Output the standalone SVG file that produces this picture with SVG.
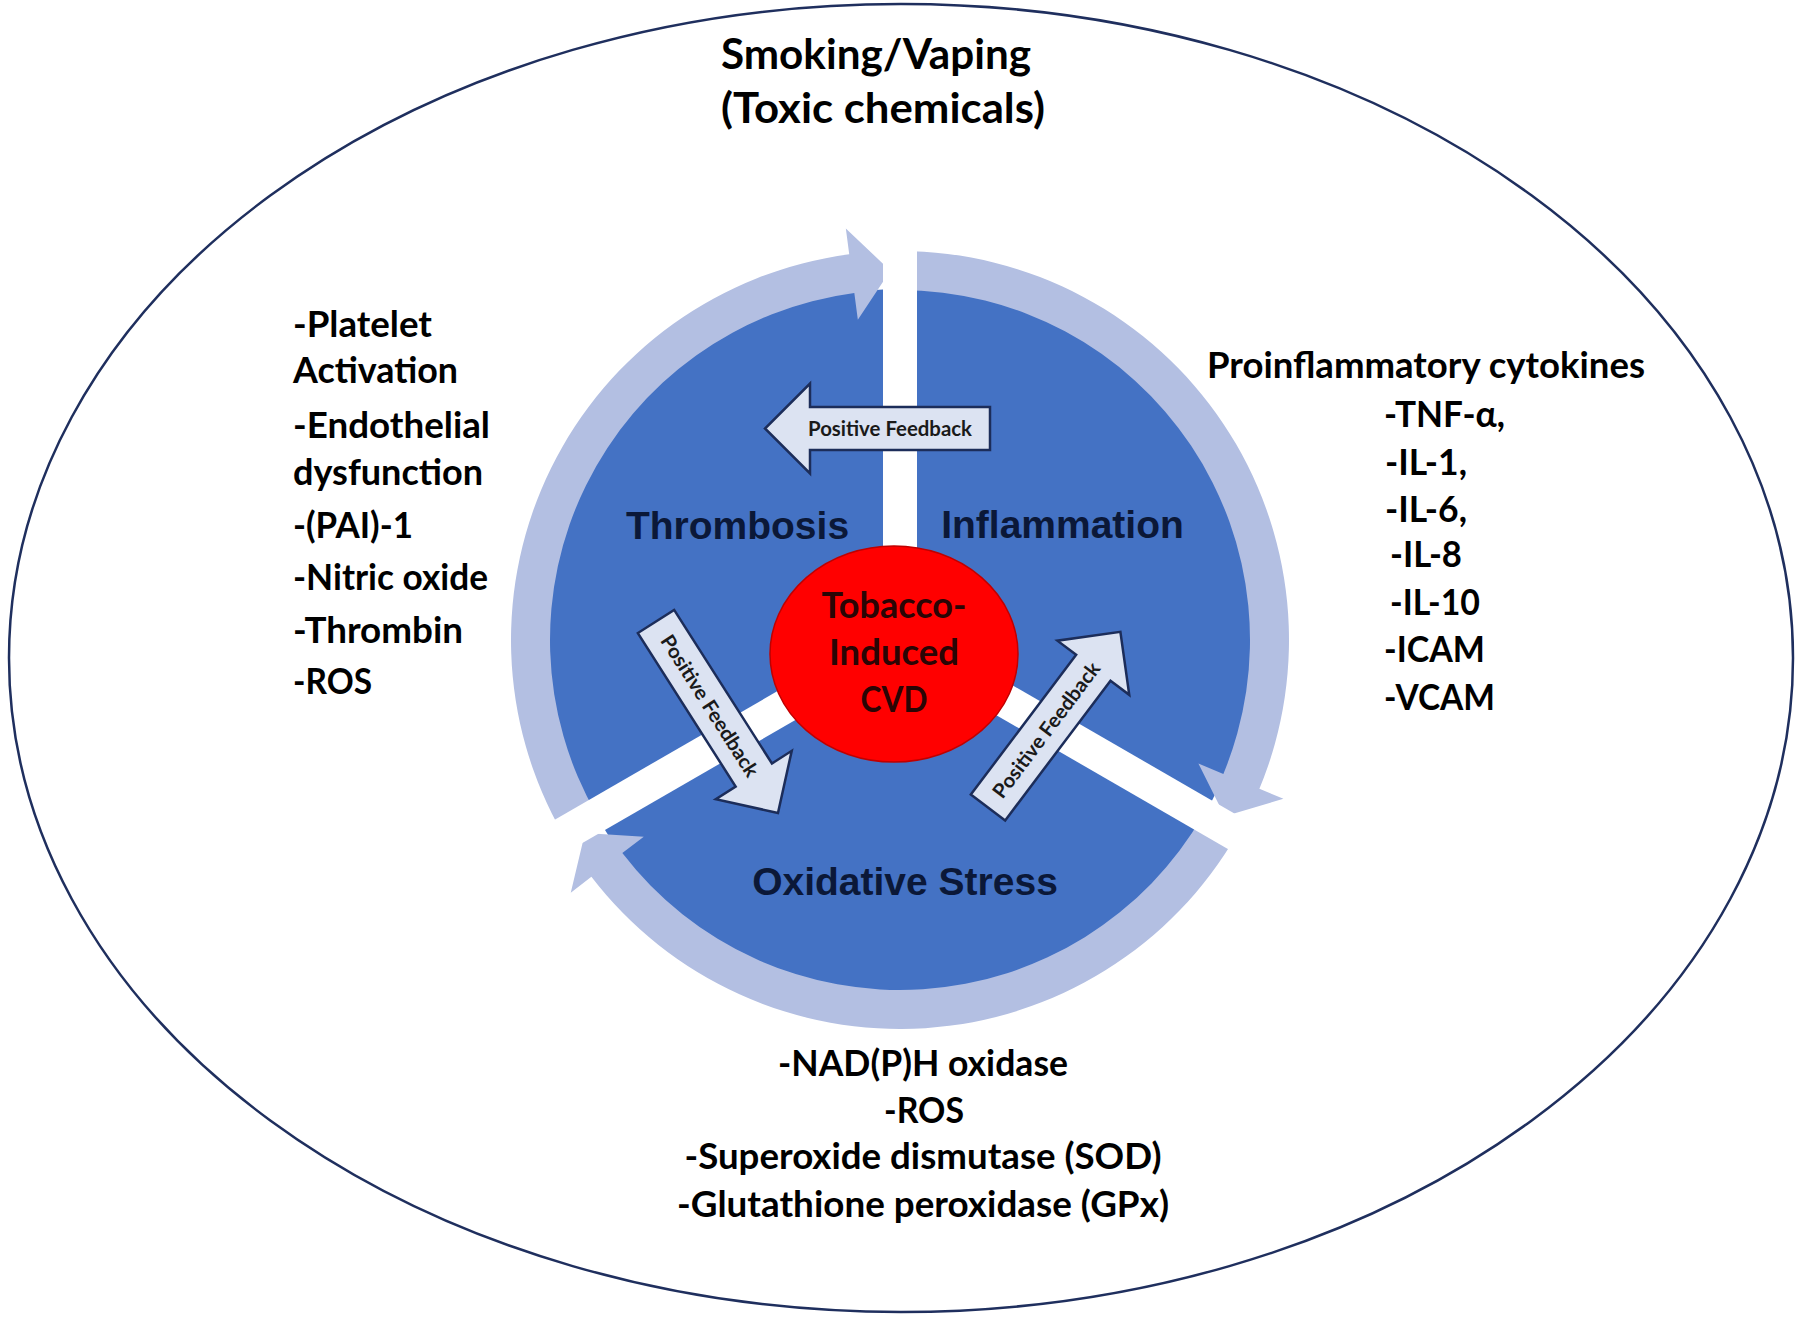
<svg xmlns="http://www.w3.org/2000/svg" width="1800" height="1319" viewBox="0 0 1800 1319">
<defs>
<style>
.cal{font-family:Lato,"Open Sans","DejaVu Sans",sans-serif;font-weight:bold;fill:#000}
.lst{font-size:36px}
.ttl{font-size:42px}
.lab{font-family:"Liberation Sans",Arial,sans-serif;font-weight:bold;font-size:39px;fill:#0B1838}
.pf{font-family:Lato,"Open Sans",sans-serif;font-weight:bold;font-size:20px;fill:#1a1a1a}
.arr{fill:#DCE3F2;stroke:#1C2D5A;stroke-width:2.5;stroke-linejoin:miter}
.band{fill:#B3BFE2}
.gap{stroke:#fff;stroke-width:34;fill:none}
.red{font-family:Lato,"Open Sans",sans-serif;font-weight:bold;font-size:36px;fill:#2A0505}
</style>
</defs>
<rect width="1800" height="1319" fill="#fff"/>
<ellipse cx="901" cy="658" rx="892" ry="654" fill="none" stroke="#1F2F5E" stroke-width="2.5"/>

<g id="title">
<text class="cal ttl" x="876" y="69" text-anchor="middle" textLength="310" lengthAdjust="spacingAndGlyphs">Smoking/Vaping</text>
<text class="cal ttl" x="883" y="123" text-anchor="middle" textLength="324" lengthAdjust="spacingAndGlyphs">(Toxic chemicals)</text>
</g>

<g id="pie">
<circle cx="900" cy="640" r="351" fill="#4472C4"/>
<path class="band" d="M563.12,834.5 A389,389 0 0 1 849.23,254.33 L845.83,228.55 L890.33,270.63 L857.84,319.76 L854.32,292.99 A350,350 0 0 0 596.89,815 Z"/>
<path class="band" d="M900,251 A389,389 0 0 1 1259.39,788.86 L1283.41,798.81 L1224.72,816.31 L1198.41,763.61 L1223.36,773.94 A350,350 0 0 0 900,290 Z"/>
<path class="band" d="M1236.88,834.5 A389,389 0 0 1 591.39,876.81 L570.76,892.64 L584.95,833.06 L643.75,836.63 L622.33,853.07 A350,350 0 0 0 1203.11,815 Z"/>
<line class="gap" x1="900" y1="640" x2="900" y2="180"/>
<line class="gap" x1="900" y1="640" x2="1298.4" y2="870"/>
<line class="gap" x1="900" y1="640" x2="501.6" y2="870"/>
</g>

<g id="connectors">
<g transform="translate(990,428.5) rotate(180)">
<polygon class="arr" points="0,-21.5 180,-21.5 180,-45 225,0 180,45 180,21.5 0,21.5"/>
</g>
<text class="pf" x="890" y="436" text-anchor="middle" textLength="164" lengthAdjust="spacingAndGlyphs">Positive Feedback</text>
<g transform="translate(656,621.5) rotate(57.5)">
<polygon class="arr" points="0,-21.5 182,-21.5 182,-45 227,0 182,45 182,21.5 0,21.5"/>
<text class="pf" x="100" y="7" text-anchor="middle" textLength="164" lengthAdjust="spacingAndGlyphs">Positive Feedback</text>
</g>
<g transform="translate(988,807.5) rotate(-53)">
<polygon class="arr" points="0,-21.5 175,-21.5 175,-45 220,0 175,45 175,21.5 0,21.5"/>
<text class="pf" x="97" y="7" text-anchor="middle" textLength="164" lengthAdjust="spacingAndGlyphs">Positive Feedback</text>
</g>
</g>

<g id="node-thrombosis"><text class="lab" x="737.5" y="539" text-anchor="middle">Thrombosis</text></g>
<g id="node-inflammation"><text class="lab" x="1062.5" y="538" text-anchor="middle">Inflammation</text></g>
<g id="node-oxidative"><text class="lab" x="905" y="895" text-anchor="middle">Oxidative Stress</text></g>

<g id="node-cvd">
<ellipse cx="894" cy="654" rx="124" ry="108" fill="#FF0000" stroke="#C00000" stroke-width="1.5"/>
<text class="red" x="894" y="618" text-anchor="middle" textLength="145" lengthAdjust="spacingAndGlyphs">Tobacco-</text>
<text class="red" x="894" y="665" text-anchor="middle" textLength="130" lengthAdjust="spacingAndGlyphs">Induced</text>
<text class="red" x="894" y="712" text-anchor="middle" textLength="67" lengthAdjust="spacingAndGlyphs">CVD</text>
</g>

<g id="list-thrombosis">
<text class="cal lst" x="293" y="337" textLength="139" lengthAdjust="spacingAndGlyphs">-Platelet</text>
<text class="cal lst" x="293" y="383" textLength="165" lengthAdjust="spacingAndGlyphs">Activation</text>
<text class="cal lst" x="293" y="438" textLength="197" lengthAdjust="spacingAndGlyphs">-Endothelial</text>
<text class="cal lst" x="293" y="485" textLength="190" lengthAdjust="spacingAndGlyphs">dysfunction</text>
<text class="cal lst" x="293" y="538" textLength="120" lengthAdjust="spacingAndGlyphs">-(PAI)-1</text>
<text class="cal lst" x="293" y="590" textLength="195" lengthAdjust="spacingAndGlyphs">-Nitric oxide</text>
<text class="cal lst" x="293" y="643" textLength="170" lengthAdjust="spacingAndGlyphs">-Thrombin</text>
<text class="cal lst" x="293" y="694" textLength="79" lengthAdjust="spacingAndGlyphs">-ROS</text>
</g>

<g id="list-inflammation">
<text class="cal lst" x="1207" y="378" textLength="438" lengthAdjust="spacingAndGlyphs">Proinflammatory cytokines</text>
<text class="cal lst" x="1384" y="427" textLength="121" lengthAdjust="spacingAndGlyphs">-TNF-α,</text>
<text class="cal lst" x="1385" y="475" textLength="82" lengthAdjust="spacingAndGlyphs">-IL-1,</text>
<text class="cal lst" x="1385" y="522" textLength="82" lengthAdjust="spacingAndGlyphs">-IL-6,</text>
<text class="cal lst" x="1390" y="567" textLength="72" lengthAdjust="spacingAndGlyphs">-IL-8</text>
<text class="cal lst" x="1390" y="615" textLength="90" lengthAdjust="spacingAndGlyphs">-IL-10</text>
<text class="cal lst" x="1384" y="662" textLength="101" lengthAdjust="spacingAndGlyphs">-ICAM</text>
<text class="cal lst" x="1384" y="710" textLength="111" lengthAdjust="spacingAndGlyphs">-VCAM</text>
</g>

<g id="list-oxidative">
<text class="cal lst" x="923" y="1076" text-anchor="middle" textLength="290" lengthAdjust="spacingAndGlyphs">-NAD(P)H oxidase</text>
<text class="cal lst" x="924" y="1123" text-anchor="middle" textLength="80" lengthAdjust="spacingAndGlyphs">-ROS</text>
<text class="cal lst" x="923" y="1169" text-anchor="middle" textLength="477" lengthAdjust="spacingAndGlyphs">-Superoxide dismutase (SOD)</text>
<text class="cal lst" x="923" y="1217" text-anchor="middle" textLength="492" lengthAdjust="spacingAndGlyphs">-Glutathione peroxidase (GPx)</text>
</g>
</svg>
